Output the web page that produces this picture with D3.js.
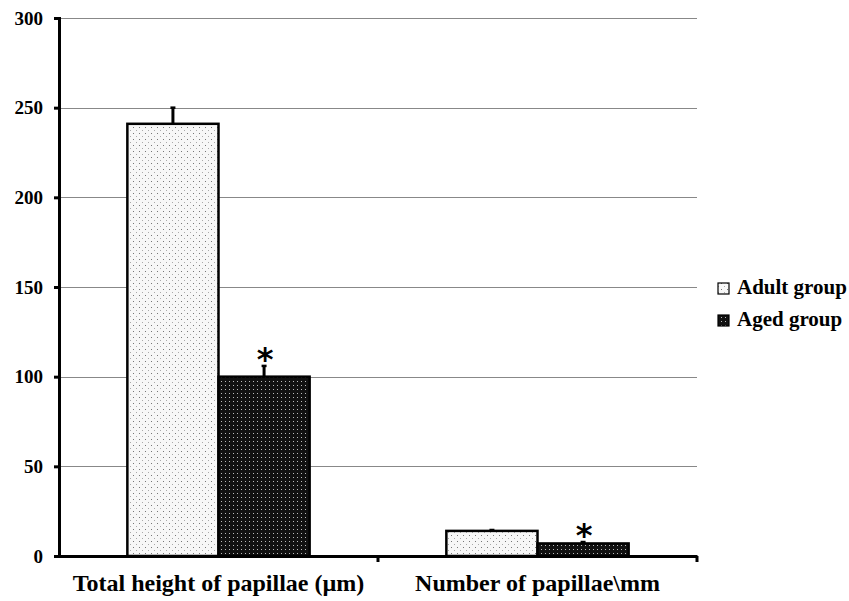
<!DOCTYPE html>
<html>
<head>
<meta charset="utf-8">
<script src="https://d3js.org/d3.v7.min.js"></script>
</head>
<body style="margin:0">
<script>
    var categories = ["Total height of papillae (\u00b5m)", "Number of papillae\\mm"];
    var groups = ["Adult group", "Aged group"];
    var adultValues = [241, 14];
    var agedValues = [100, 7];
    var adultErrors = [9, 0.5];
    var agedErrors = [6, 0.8];
    var yTicks = [0, 50, 100, 150, 200, 250, 300];

    var W = 849, H = 601;
    var margin = {left: 59, right: 152, top: 18, bottom: 45};
    var width = W - margin.left - margin.right;
    var height = H - margin.top - margin.bottom;

    var svg = d3.select("body").append("svg").attr("width", W).attr("height", H);

    var defs = svg.append("defs");
    var p1 = defs.append("pattern").attr("id", "dotsLight").attr("patternUnits", "userSpaceOnUse")
        .attr("width", 6).attr("height", 6);
    p1.append("rect").attr("width", 6).attr("height", 6).attr("fill", "#f7f7f7");
    p1.append("rect").attr("x", 1).attr("y", 1).attr("width", 1).attr("height", 1).attr("fill", "#777");
    p1.append("rect").attr("x", 4).attr("y", 4).attr("width", 1).attr("height", 1).attr("fill", "#aaa");
    var p2 = defs.append("pattern").attr("id", "dotsDark").attr("patternUnits", "userSpaceOnUse")
        .attr("width", 4).attr("height", 4);
    p2.append("rect").attr("width", 4).attr("height", 4).attr("fill", "#111");
    p2.append("rect").attr("x", 1).attr("y", 1).attr("width", 1).attr("height", 1).attr("fill", "#bbb");

    var fills = ["url(#dotsLight)", "url(#dotsDark)"];

    var y = d3.scaleLinear().domain([0, 300]).range([margin.top + height, margin.top]);
    var x0 = d3.scaleBand().domain(categories).range([margin.left, margin.left + width]);
    var x1 = d3.scaleBand().domain(groups).range([0, x0.bandwidth()]).paddingOuter(0.75);

    // gridlines
    svg.append("g").selectAll("line")
        .data(yTicks.filter(function(d){ return d > 0; }))
        .enter().append("line")
        .attr("x1", margin.left).attr("x2", margin.left + width)
        .attr("y1", function(d){ return Math.round(y(d)) + 0.5; })
        .attr("y2", function(d){ return Math.round(y(d)) + 0.5; })
        .attr("stroke", "#888").attr("stroke-width", 1)
        .attr("shape-rendering", "crispEdges");

    var rows = [];
    categories.forEach(function(c, i) {
        rows.push({cat: c, group: groups[0], gi: 0, value: adultValues[i], err: adultErrors[i], star: false});
        rows.push({cat: c, group: groups[1], gi: 1, value: agedValues[i], err: agedErrors[i], star: true});
    });
    function cx(d) { return x0(d.cat) + x1(d.group) + x1.bandwidth() / 2; }

    // error bars (upper only)
    svg.append("g").selectAll("line").data(rows).enter().append("line")
        .attr("x1", cx).attr("x2", cx)
        .attr("y1", function(d){ return y(d.value); })
        .attr("y2", function(d){ return y(d.value + d.err); })
        .attr("stroke", "#000").attr("stroke-width", 3);
    svg.append("g").selectAll("line").data(rows).enter().append("line")
        .attr("x1", function(d){ return cx(d) - 2.5; })
        .attr("x2", function(d){ return cx(d) + 2.5; })
        .attr("y1", function(d){ return y(d.value + d.err); })
        .attr("y2", function(d){ return y(d.value + d.err); })
        .attr("stroke", "#000").attr("stroke-width", 2.5);

    // bars
    svg.append("g").selectAll("rect").data(rows).enter().append("rect")
        .attr("x", function(d){ return x0(d.cat) + x1(d.group); })
        .attr("y", function(d){ return y(d.value); })
        .attr("width", x1.bandwidth())
        .attr("height", function(d){ return y(0) - y(d.value); })
        .attr("fill", function(d){ return fills[d.gi]; })
        .attr("stroke", "#000").attr("stroke-width", 2.5);

    // significance stars
    svg.selectAll("text.star").data(rows.filter(function(d){ return d.star; }))
        .enter().append("text")
        .attr("class", "star")
        .attr("x", function(d){ return cx(d) + 1; })
        .attr("y", function(d){ return y(d.value + d.err) + 4; })
        .attr("text-anchor", "middle")
        .style("font-family", "'DejaVu Sans'")
        .style("font-weight", "bold")
        .style("font-size", "32px")
        .text("*");

    // y axis
    var yAxis = d3.axisLeft(y).tickValues(yTicks).tickSize(5).tickPadding(11);
    var ya = svg.append("g").attr("transform", "translate(" + margin.left + ",0)").call(yAxis);
    ya.selectAll("path, line").attr("stroke", "#000").attr("stroke-width", 3);
    ya.selectAll("text")
        .style("font-family", "'Liberation Serif'")
        .style("font-weight", "bold")
        .style("font-size", "19px");

    // x axis
    var xAxis = d3.axisBottom(x0).tickValues([]).tickSizeOuter(0);
    var xa = svg.append("g").attr("transform", "translate(0," + y(0) + ")").call(xAxis);
    xa.selectAll("path").attr("stroke", "#000").attr("stroke-width", 3);
    xa.selectAll("line.sep").data([margin.left + x0.bandwidth(), margin.left + width]).enter().append("line")
        .attr("class", "sep")
        .attr("x1", function(d){ return d; }).attr("x2", function(d){ return d; })
        .attr("y1", 0).attr("y2", 6).attr("stroke", "#000").attr("stroke-width", 3);
    svg.selectAll("text.lbl").data(categories).enter().append("text")
        .attr("class", "lbl")
        .attr("x", function(d){ return x0(d) + x0.bandwidth() / 2; })
        .attr("y", y(0) + 35)
        .attr("text-anchor", "middle")
        .style("font-family", "'Liberation Serif'")
        .style("font-weight", "bold")
        .style("font-size", "24px")
        .text(function(d){ return d; });

    // legend
    svg.selectAll("rect.key").data(groups).enter().append("rect")
        .attr("class", "key")
        .attr("x", 718).attr("y", function(d, i){ return 283 + i * 32; })
        .attr("width", 11).attr("height", 11)
        .attr("fill", function(d, i){ return fills[i]; })
        .attr("stroke", "#000").attr("stroke-width", 1.2);
    svg.selectAll("text.key").data(groups).enter().append("text")
        .attr("class", "key")
        .attr("x", 737).attr("y", function(d, i){ return 294 + i * 32; })
        .style("font-family", "'Liberation Serif'")
        .style("font-weight", "bold")
        .style("font-size", "21px")
        .text(function(d){ return d; });
</script>
</body>
</html>
